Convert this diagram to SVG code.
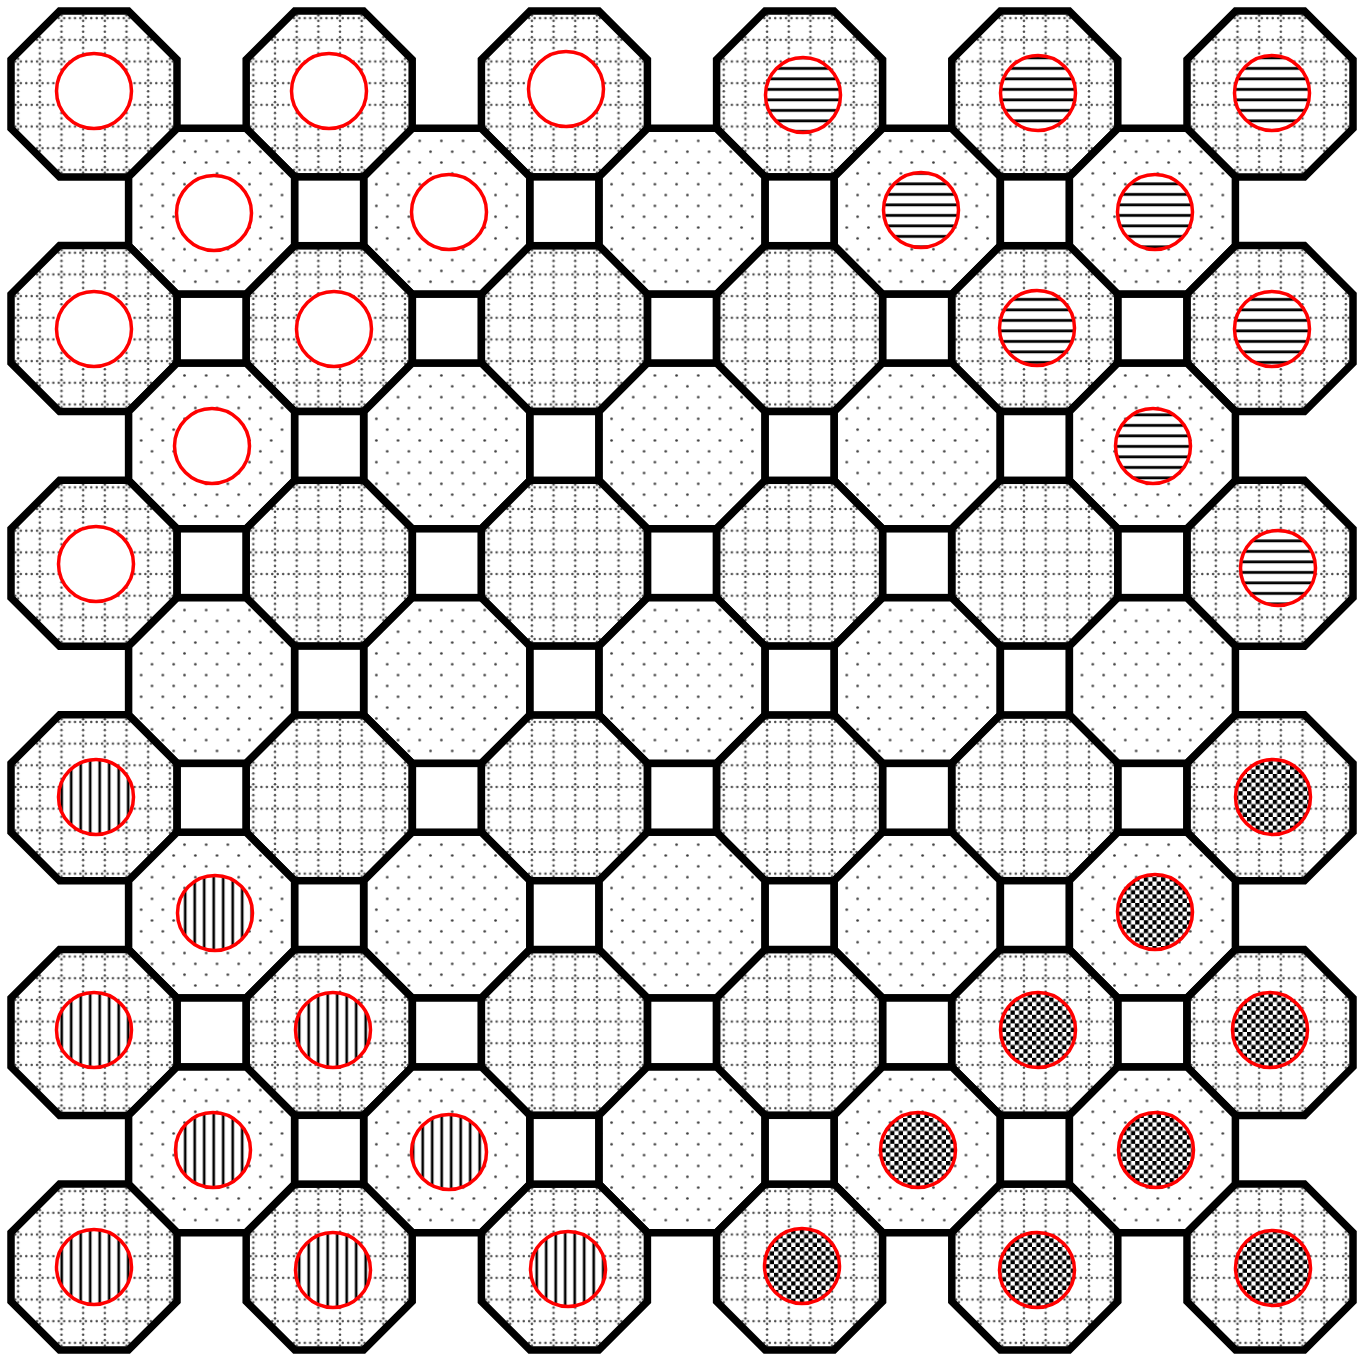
<svg xmlns="http://www.w3.org/2000/svg" width="1367" height="1354" viewBox="0 0 1367 1354">
<style>
.oct{stroke:#000;stroke-width:7.5;stroke-linejoin:miter}
.g{fill:url(#grid)}
.p{fill:url(#dots)}
.sq{fill:#fff;stroke:#000;stroke-width:7.5}
.pc{stroke:#f00;stroke-width:3.5}
.w{fill:#fff}
.h{fill:url(#hl)}
.v{fill:url(#vl)}
.k{fill:url(#chk)}
</style>
<defs>
<pattern id="grid" patternUnits="userSpaceOnUse" width="21.67" height="21.67">
<rect width="21.67" height="21.67" fill="#fff"/>
<g fill="#4a4a4a">
<circle cx="2.7" cy="10.83" r="1.25"/><circle cx="8.1" cy="10.83" r="1.25"/><circle cx="13.55" cy="10.83" r="1.25"/><circle cx="18.95" cy="10.83" r="1.25"/>
<circle cx="10.83" cy="2.7" r="1.25"/><circle cx="10.83" cy="8.1" r="1.25"/><circle cx="10.83" cy="13.55" r="1.25"/><circle cx="10.83" cy="18.95" r="1.25"/>
</g>
</pattern>
<pattern id="dots" patternUnits="userSpaceOnUse" width="21.67" height="21.67">
<rect width="21.67" height="21.67" fill="#fff"/>
<circle cx="5.42" cy="5.42" r="1.35" fill="#3c3c3c"/>
<circle cx="16.25" cy="16.25" r="1.35" fill="#3c3c3c"/>
</pattern>
<pattern id="hl" patternUnits="userSpaceOnUse" width="10" height="10.5">
<rect width="10" height="10.5" fill="#fff"/>
<rect y="4" width="10" height="2.8" fill="#000"/>
</pattern>
<pattern id="vl" patternUnits="userSpaceOnUse" width="9.5" height="10">
<rect width="9.5" height="10" fill="#fff"/>
<rect x="3.4" width="2.6" height="10" fill="#000"/>
</pattern>
<pattern id="chk" patternUnits="userSpaceOnUse" width="8.6" height="8.6">
<rect width="8.6" height="8.6" fill="#fff"/>
<rect width="4.3" height="4.3" fill="#000"/>
<rect x="4.3" y="4.3" width="4.3" height="4.3" fill="#000"/>
</pattern>
</defs>
<rect width="1367" height="1354" fill="#fff"/>

<g id="octagons">
<g id="oct-r0-c0" transform="translate(94,94)"><polygon class="oct g" points="-34.4,-83 34.4,-83 83,-34.4 83,34.4 34.4,83 -34.4,83 -83,34.4 -83,-34.4"/></g>
<g id="oct-r0-c2" transform="translate(329.2,94)"><polygon class="oct g" points="-34.4,-83 34.4,-83 83,-34.4 83,34.4 34.4,83 -34.4,83 -83,34.4 -83,-34.4"/></g>
<g id="oct-r0-c4" transform="translate(564.4,94)"><polygon class="oct g" points="-34.4,-83 34.4,-83 83,-34.4 83,34.4 34.4,83 -34.4,83 -83,34.4 -83,-34.4"/></g>
<g id="oct-r0-c6" transform="translate(799.6,94)"><polygon class="oct g" points="-34.4,-83 34.4,-83 83,-34.4 83,34.4 34.4,83 -34.4,83 -83,34.4 -83,-34.4"/></g>
<g id="oct-r0-c8" transform="translate(1034.8,94)"><polygon class="oct g" points="-34.4,-83 34.4,-83 83,-34.4 83,34.4 34.4,83 -34.4,83 -83,34.4 -83,-34.4"/></g>
<g id="oct-r0-c10" transform="translate(1270,94)"><polygon class="oct g" points="-34.4,-83 34.4,-83 83,-34.4 83,34.4 34.4,83 -34.4,83 -83,34.4 -83,-34.4"/></g>

<g id="oct-r1-c1" transform="translate(211.6,211.3)"><polygon class="oct p" points="-34.4,-83 34.4,-83 83,-34.4 83,34.4 34.4,83 -34.4,83 -83,34.4 -83,-34.4"/></g>
<g id="oct-r1-c3" transform="translate(446.8,211.3)"><polygon class="oct p" points="-34.4,-83 34.4,-83 83,-34.4 83,34.4 34.4,83 -34.4,83 -83,34.4 -83,-34.4"/></g>
<g id="oct-r1-c5" transform="translate(682,211.3)"><polygon class="oct p" points="-34.4,-83 34.4,-83 83,-34.4 83,34.4 34.4,83 -34.4,83 -83,34.4 -83,-34.4"/></g>
<g id="oct-r1-c7" transform="translate(917.2,211.3)"><polygon class="oct p" points="-34.4,-83 34.4,-83 83,-34.4 83,34.4 34.4,83 -34.4,83 -83,34.4 -83,-34.4"/></g>
<g id="oct-r1-c9" transform="translate(1152.4,211.3)"><polygon class="oct p" points="-34.4,-83 34.4,-83 83,-34.4 83,34.4 34.4,83 -34.4,83 -83,34.4 -83,-34.4"/></g>

<g id="oct-r2-c0" transform="translate(94,328.6)"><polygon class="oct g" points="-34.4,-83 34.4,-83 83,-34.4 83,34.4 34.4,83 -34.4,83 -83,34.4 -83,-34.4"/></g>
<g id="oct-r2-c2" transform="translate(329.2,328.6)"><polygon class="oct g" points="-34.4,-83 34.4,-83 83,-34.4 83,34.4 34.4,83 -34.4,83 -83,34.4 -83,-34.4"/></g>
<g id="oct-r2-c4" transform="translate(564.4,328.6)"><polygon class="oct g" points="-34.4,-83 34.4,-83 83,-34.4 83,34.4 34.4,83 -34.4,83 -83,34.4 -83,-34.4"/></g>
<g id="oct-r2-c6" transform="translate(799.6,328.6)"><polygon class="oct g" points="-34.4,-83 34.4,-83 83,-34.4 83,34.4 34.4,83 -34.4,83 -83,34.4 -83,-34.4"/></g>
<g id="oct-r2-c8" transform="translate(1034.8,328.6)"><polygon class="oct g" points="-34.4,-83 34.4,-83 83,-34.4 83,34.4 34.4,83 -34.4,83 -83,34.4 -83,-34.4"/></g>
<g id="oct-r2-c10" transform="translate(1270,328.6)"><polygon class="oct g" points="-34.4,-83 34.4,-83 83,-34.4 83,34.4 34.4,83 -34.4,83 -83,34.4 -83,-34.4"/></g>

<g id="oct-r3-c1" transform="translate(211.6,445.9)"><polygon class="oct p" points="-34.4,-83 34.4,-83 83,-34.4 83,34.4 34.4,83 -34.4,83 -83,34.4 -83,-34.4"/></g>
<g id="oct-r3-c3" transform="translate(446.8,445.9)"><polygon class="oct p" points="-34.4,-83 34.4,-83 83,-34.4 83,34.4 34.4,83 -34.4,83 -83,34.4 -83,-34.4"/></g>
<g id="oct-r3-c5" transform="translate(682,445.9)"><polygon class="oct p" points="-34.4,-83 34.4,-83 83,-34.4 83,34.4 34.4,83 -34.4,83 -83,34.4 -83,-34.4"/></g>
<g id="oct-r3-c7" transform="translate(917.2,445.9)"><polygon class="oct p" points="-34.4,-83 34.4,-83 83,-34.4 83,34.4 34.4,83 -34.4,83 -83,34.4 -83,-34.4"/></g>
<g id="oct-r3-c9" transform="translate(1152.4,445.9)"><polygon class="oct p" points="-34.4,-83 34.4,-83 83,-34.4 83,34.4 34.4,83 -34.4,83 -83,34.4 -83,-34.4"/></g>

<g id="oct-r4-c0" transform="translate(94,563.2)"><polygon class="oct g" points="-34.4,-83 34.4,-83 83,-34.4 83,34.4 34.4,83 -34.4,83 -83,34.4 -83,-34.4"/></g>
<g id="oct-r4-c2" transform="translate(329.2,563.2)"><polygon class="oct g" points="-34.4,-83 34.4,-83 83,-34.4 83,34.4 34.4,83 -34.4,83 -83,34.4 -83,-34.4"/></g>
<g id="oct-r4-c4" transform="translate(564.4,563.2)"><polygon class="oct g" points="-34.4,-83 34.4,-83 83,-34.4 83,34.4 34.4,83 -34.4,83 -83,34.4 -83,-34.4"/></g>
<g id="oct-r4-c6" transform="translate(799.6,563.2)"><polygon class="oct g" points="-34.4,-83 34.4,-83 83,-34.4 83,34.4 34.4,83 -34.4,83 -83,34.4 -83,-34.4"/></g>
<g id="oct-r4-c8" transform="translate(1034.8,563.2)"><polygon class="oct g" points="-34.4,-83 34.4,-83 83,-34.4 83,34.4 34.4,83 -34.4,83 -83,34.4 -83,-34.4"/></g>
<g id="oct-r4-c10" transform="translate(1270,563.2)"><polygon class="oct g" points="-34.4,-83 34.4,-83 83,-34.4 83,34.4 34.4,83 -34.4,83 -83,34.4 -83,-34.4"/></g>

<g id="oct-r5-c1" transform="translate(211.6,680.5)"><polygon class="oct p" points="-34.4,-83 34.4,-83 83,-34.4 83,34.4 34.4,83 -34.4,83 -83,34.4 -83,-34.4"/></g>
<g id="oct-r5-c3" transform="translate(446.8,680.5)"><polygon class="oct p" points="-34.4,-83 34.4,-83 83,-34.4 83,34.4 34.4,83 -34.4,83 -83,34.4 -83,-34.4"/></g>
<g id="oct-r5-c5" transform="translate(682,680.5)"><polygon class="oct p" points="-34.4,-83 34.4,-83 83,-34.4 83,34.4 34.4,83 -34.4,83 -83,34.4 -83,-34.4"/></g>
<g id="oct-r5-c7" transform="translate(917.2,680.5)"><polygon class="oct p" points="-34.4,-83 34.4,-83 83,-34.4 83,34.4 34.4,83 -34.4,83 -83,34.4 -83,-34.4"/></g>
<g id="oct-r5-c9" transform="translate(1152.4,680.5)"><polygon class="oct p" points="-34.4,-83 34.4,-83 83,-34.4 83,34.4 34.4,83 -34.4,83 -83,34.4 -83,-34.4"/></g>

<g id="oct-r6-c0" transform="translate(94,797.8)"><polygon class="oct g" points="-34.4,-83 34.4,-83 83,-34.4 83,34.4 34.4,83 -34.4,83 -83,34.4 -83,-34.4"/></g>
<g id="oct-r6-c2" transform="translate(329.2,797.8)"><polygon class="oct g" points="-34.4,-83 34.4,-83 83,-34.4 83,34.4 34.4,83 -34.4,83 -83,34.4 -83,-34.4"/></g>
<g id="oct-r6-c4" transform="translate(564.4,797.8)"><polygon class="oct g" points="-34.4,-83 34.4,-83 83,-34.4 83,34.4 34.4,83 -34.4,83 -83,34.4 -83,-34.4"/></g>
<g id="oct-r6-c6" transform="translate(799.6,797.8)"><polygon class="oct g" points="-34.4,-83 34.4,-83 83,-34.4 83,34.4 34.4,83 -34.4,83 -83,34.4 -83,-34.4"/></g>
<g id="oct-r6-c8" transform="translate(1034.8,797.8)"><polygon class="oct g" points="-34.4,-83 34.4,-83 83,-34.4 83,34.4 34.4,83 -34.4,83 -83,34.4 -83,-34.4"/></g>
<g id="oct-r6-c10" transform="translate(1270,797.8)"><polygon class="oct g" points="-34.4,-83 34.4,-83 83,-34.4 83,34.4 34.4,83 -34.4,83 -83,34.4 -83,-34.4"/></g>

<g id="oct-r7-c1" transform="translate(211.6,915.1)"><polygon class="oct p" points="-34.4,-83 34.4,-83 83,-34.4 83,34.4 34.4,83 -34.4,83 -83,34.4 -83,-34.4"/></g>
<g id="oct-r7-c3" transform="translate(446.8,915.1)"><polygon class="oct p" points="-34.4,-83 34.4,-83 83,-34.4 83,34.4 34.4,83 -34.4,83 -83,34.4 -83,-34.4"/></g>
<g id="oct-r7-c5" transform="translate(682,915.1)"><polygon class="oct p" points="-34.4,-83 34.4,-83 83,-34.4 83,34.4 34.4,83 -34.4,83 -83,34.4 -83,-34.4"/></g>
<g id="oct-r7-c7" transform="translate(917.2,915.1)"><polygon class="oct p" points="-34.4,-83 34.4,-83 83,-34.4 83,34.4 34.4,83 -34.4,83 -83,34.4 -83,-34.4"/></g>
<g id="oct-r7-c9" transform="translate(1152.4,915.1)"><polygon class="oct p" points="-34.4,-83 34.4,-83 83,-34.4 83,34.4 34.4,83 -34.4,83 -83,34.4 -83,-34.4"/></g>

<g id="oct-r8-c0" transform="translate(94,1032.4)"><polygon class="oct g" points="-34.4,-83 34.4,-83 83,-34.4 83,34.4 34.4,83 -34.4,83 -83,34.4 -83,-34.4"/></g>
<g id="oct-r8-c2" transform="translate(329.2,1032.4)"><polygon class="oct g" points="-34.4,-83 34.4,-83 83,-34.4 83,34.4 34.4,83 -34.4,83 -83,34.4 -83,-34.4"/></g>
<g id="oct-r8-c4" transform="translate(564.4,1032.4)"><polygon class="oct g" points="-34.4,-83 34.4,-83 83,-34.4 83,34.4 34.4,83 -34.4,83 -83,34.4 -83,-34.4"/></g>
<g id="oct-r8-c6" transform="translate(799.6,1032.4)"><polygon class="oct g" points="-34.4,-83 34.4,-83 83,-34.4 83,34.4 34.4,83 -34.4,83 -83,34.4 -83,-34.4"/></g>
<g id="oct-r8-c8" transform="translate(1034.8,1032.4)"><polygon class="oct g" points="-34.4,-83 34.4,-83 83,-34.4 83,34.4 34.4,83 -34.4,83 -83,34.4 -83,-34.4"/></g>
<g id="oct-r8-c10" transform="translate(1270,1032.4)"><polygon class="oct g" points="-34.4,-83 34.4,-83 83,-34.4 83,34.4 34.4,83 -34.4,83 -83,34.4 -83,-34.4"/></g>

<g id="oct-r9-c1" transform="translate(211.6,1149.7)"><polygon class="oct p" points="-34.4,-83 34.4,-83 83,-34.4 83,34.4 34.4,83 -34.4,83 -83,34.4 -83,-34.4"/></g>
<g id="oct-r9-c3" transform="translate(446.8,1149.7)"><polygon class="oct p" points="-34.4,-83 34.4,-83 83,-34.4 83,34.4 34.4,83 -34.4,83 -83,34.4 -83,-34.4"/></g>
<g id="oct-r9-c5" transform="translate(682,1149.7)"><polygon class="oct p" points="-34.4,-83 34.4,-83 83,-34.4 83,34.4 34.4,83 -34.4,83 -83,34.4 -83,-34.4"/></g>
<g id="oct-r9-c7" transform="translate(917.2,1149.7)"><polygon class="oct p" points="-34.4,-83 34.4,-83 83,-34.4 83,34.4 34.4,83 -34.4,83 -83,34.4 -83,-34.4"/></g>
<g id="oct-r9-c9" transform="translate(1152.4,1149.7)"><polygon class="oct p" points="-34.4,-83 34.4,-83 83,-34.4 83,34.4 34.4,83 -34.4,83 -83,34.4 -83,-34.4"/></g>

<g id="oct-r10-c0" transform="translate(94,1267)"><polygon class="oct g" points="-34.4,-83 34.4,-83 83,-34.4 83,34.4 34.4,83 -34.4,83 -83,34.4 -83,-34.4"/></g>
<g id="oct-r10-c2" transform="translate(329.2,1267)"><polygon class="oct g" points="-34.4,-83 34.4,-83 83,-34.4 83,34.4 34.4,83 -34.4,83 -83,34.4 -83,-34.4"/></g>
<g id="oct-r10-c4" transform="translate(564.4,1267)"><polygon class="oct g" points="-34.4,-83 34.4,-83 83,-34.4 83,34.4 34.4,83 -34.4,83 -83,34.4 -83,-34.4"/></g>
<g id="oct-r10-c6" transform="translate(799.6,1267)"><polygon class="oct g" points="-34.4,-83 34.4,-83 83,-34.4 83,34.4 34.4,83 -34.4,83 -83,34.4 -83,-34.4"/></g>
<g id="oct-r10-c8" transform="translate(1034.8,1267)"><polygon class="oct g" points="-34.4,-83 34.4,-83 83,-34.4 83,34.4 34.4,83 -34.4,83 -83,34.4 -83,-34.4"/></g>
<g id="oct-r10-c10" transform="translate(1270,1267)"><polygon class="oct g" points="-34.4,-83 34.4,-83 83,-34.4 83,34.4 34.4,83 -34.4,83 -83,34.4 -83,-34.4"/></g>
</g>

<g id="squares">
<g id="sq-r1-c2" transform="translate(329.2,211.3)"><rect class="sq" x="-34.4" y="-34.4" width="68.8" height="68.8"/></g>
<g id="sq-r1-c4" transform="translate(564.4,211.3)"><rect class="sq" x="-34.4" y="-34.4" width="68.8" height="68.8"/></g>
<g id="sq-r1-c6" transform="translate(799.6,211.3)"><rect class="sq" x="-34.4" y="-34.4" width="68.8" height="68.8"/></g>
<g id="sq-r1-c8" transform="translate(1034.8,211.3)"><rect class="sq" x="-34.4" y="-34.4" width="68.8" height="68.8"/></g>

<g id="sq-r2-c1" transform="translate(211.6,328.6)"><rect class="sq" x="-34.4" y="-34.4" width="68.8" height="68.8"/></g>
<g id="sq-r2-c3" transform="translate(446.8,328.6)"><rect class="sq" x="-34.4" y="-34.4" width="68.8" height="68.8"/></g>
<g id="sq-r2-c5" transform="translate(682,328.6)"><rect class="sq" x="-34.4" y="-34.4" width="68.8" height="68.8"/></g>
<g id="sq-r2-c7" transform="translate(917.2,328.6)"><rect class="sq" x="-34.4" y="-34.4" width="68.8" height="68.8"/></g>
<g id="sq-r2-c9" transform="translate(1152.4,328.6)"><rect class="sq" x="-34.4" y="-34.4" width="68.8" height="68.8"/></g>

<g id="sq-r3-c2" transform="translate(329.2,445.9)"><rect class="sq" x="-34.4" y="-34.4" width="68.8" height="68.8"/></g>
<g id="sq-r3-c4" transform="translate(564.4,445.9)"><rect class="sq" x="-34.4" y="-34.4" width="68.8" height="68.8"/></g>
<g id="sq-r3-c6" transform="translate(799.6,445.9)"><rect class="sq" x="-34.4" y="-34.4" width="68.8" height="68.8"/></g>
<g id="sq-r3-c8" transform="translate(1034.8,445.9)"><rect class="sq" x="-34.4" y="-34.4" width="68.8" height="68.8"/></g>

<g id="sq-r4-c1" transform="translate(211.6,563.2)"><rect class="sq" x="-34.4" y="-34.4" width="68.8" height="68.8"/></g>
<g id="sq-r4-c3" transform="translate(446.8,563.2)"><rect class="sq" x="-34.4" y="-34.4" width="68.8" height="68.8"/></g>
<g id="sq-r4-c5" transform="translate(682,563.2)"><rect class="sq" x="-34.4" y="-34.4" width="68.8" height="68.8"/></g>
<g id="sq-r4-c7" transform="translate(917.2,563.2)"><rect class="sq" x="-34.4" y="-34.4" width="68.8" height="68.8"/></g>
<g id="sq-r4-c9" transform="translate(1152.4,563.2)"><rect class="sq" x="-34.4" y="-34.4" width="68.8" height="68.8"/></g>

<g id="sq-r5-c2" transform="translate(329.2,680.5)"><rect class="sq" x="-34.4" y="-34.4" width="68.8" height="68.8"/></g>
<g id="sq-r5-c4" transform="translate(564.4,680.5)"><rect class="sq" x="-34.4" y="-34.4" width="68.8" height="68.8"/></g>
<g id="sq-r5-c6" transform="translate(799.6,680.5)"><rect class="sq" x="-34.4" y="-34.4" width="68.8" height="68.8"/></g>
<g id="sq-r5-c8" transform="translate(1034.8,680.5)"><rect class="sq" x="-34.4" y="-34.4" width="68.8" height="68.8"/></g>

<g id="sq-r6-c1" transform="translate(211.6,797.8)"><rect class="sq" x="-34.4" y="-34.4" width="68.8" height="68.8"/></g>
<g id="sq-r6-c3" transform="translate(446.8,797.8)"><rect class="sq" x="-34.4" y="-34.4" width="68.8" height="68.8"/></g>
<g id="sq-r6-c5" transform="translate(682,797.8)"><rect class="sq" x="-34.4" y="-34.4" width="68.8" height="68.8"/></g>
<g id="sq-r6-c7" transform="translate(917.2,797.8)"><rect class="sq" x="-34.4" y="-34.4" width="68.8" height="68.8"/></g>
<g id="sq-r6-c9" transform="translate(1152.4,797.8)"><rect class="sq" x="-34.4" y="-34.4" width="68.8" height="68.8"/></g>

<g id="sq-r7-c2" transform="translate(329.2,915.1)"><rect class="sq" x="-34.4" y="-34.4" width="68.8" height="68.8"/></g>
<g id="sq-r7-c4" transform="translate(564.4,915.1)"><rect class="sq" x="-34.4" y="-34.4" width="68.8" height="68.8"/></g>
<g id="sq-r7-c6" transform="translate(799.6,915.1)"><rect class="sq" x="-34.4" y="-34.4" width="68.8" height="68.8"/></g>
<g id="sq-r7-c8" transform="translate(1034.8,915.1)"><rect class="sq" x="-34.4" y="-34.4" width="68.8" height="68.8"/></g>

<g id="sq-r8-c1" transform="translate(211.6,1032.4)"><rect class="sq" x="-34.4" y="-34.4" width="68.8" height="68.8"/></g>
<g id="sq-r8-c3" transform="translate(446.8,1032.4)"><rect class="sq" x="-34.4" y="-34.4" width="68.8" height="68.8"/></g>
<g id="sq-r8-c5" transform="translate(682,1032.4)"><rect class="sq" x="-34.4" y="-34.4" width="68.8" height="68.8"/></g>
<g id="sq-r8-c7" transform="translate(917.2,1032.4)"><rect class="sq" x="-34.4" y="-34.4" width="68.8" height="68.8"/></g>
<g id="sq-r8-c9" transform="translate(1152.4,1032.4)"><rect class="sq" x="-34.4" y="-34.4" width="68.8" height="68.8"/></g>

<g id="sq-r9-c2" transform="translate(329.2,1149.7)"><rect class="sq" x="-34.4" y="-34.4" width="68.8" height="68.8"/></g>
<g id="sq-r9-c4" transform="translate(564.4,1149.7)"><rect class="sq" x="-34.4" y="-34.4" width="68.8" height="68.8"/></g>
<g id="sq-r9-c6" transform="translate(799.6,1149.7)"><rect class="sq" x="-34.4" y="-34.4" width="68.8" height="68.8"/></g>
<g id="sq-r9-c8" transform="translate(1034.8,1149.7)"><rect class="sq" x="-34.4" y="-34.4" width="68.8" height="68.8"/></g>
</g>

<g id="connectors"></g>

<g id="pieces">
<g id="piece-white-1"><circle class="pc w" cx="94" cy="91" r="37.5"/></g>
<g id="piece-white-2"><circle class="pc w" cx="329" cy="91" r="37.5"/></g>
<g id="piece-white-3"><circle class="pc w" cx="566" cy="89" r="37.5"/></g>
<g id="piece-white-4"><circle class="pc w" cx="214" cy="213" r="37.5"/></g>
<g id="piece-white-5"><circle class="pc w" cx="449" cy="212" r="37.5"/></g>
<g id="piece-white-6"><circle class="pc w" cx="94" cy="329" r="37.5"/></g>
<g id="piece-white-7"><circle class="pc w" cx="334" cy="329" r="37.5"/></g>
<g id="piece-white-8"><circle class="pc w" cx="212" cy="446" r="37.5"/></g>
<g id="piece-white-9"><circle class="pc w" cx="96" cy="564" r="37.5"/></g>

<g id="piece-hlines-1"><circle class="pc h" cx="803" cy="95" r="37.5"/></g>
<g id="piece-hlines-2"><circle class="pc h" cx="1038" cy="93" r="37.5"/></g>
<g id="piece-hlines-3"><circle class="pc h" cx="1272" cy="93" r="37.5"/></g>
<g id="piece-hlines-4"><circle class="pc h" cx="921" cy="210" r="37.5"/></g>
<g id="piece-hlines-5"><circle class="pc h" cx="1155" cy="212" r="37.5"/></g>
<g id="piece-hlines-6"><circle class="pc h" cx="1037" cy="328" r="37.5"/></g>
<g id="piece-hlines-7"><circle class="pc h" cx="1272" cy="329" r="37.5"/></g>
<g id="piece-hlines-8"><circle class="pc h" cx="1153" cy="446" r="37.5"/></g>
<g id="piece-hlines-9"><circle class="pc h" cx="1278" cy="568" r="37.5"/></g>

<g id="piece-vlines-1"><circle class="pc v" cx="96" cy="797" r="37.5"/></g>
<g id="piece-vlines-2"><circle class="pc v" cx="215" cy="913" r="37.5"/></g>
<g id="piece-vlines-3"><circle class="pc v" cx="94" cy="1030" r="37.5"/></g>
<g id="piece-vlines-4"><circle class="pc v" cx="333" cy="1030" r="37.5"/></g>
<g id="piece-vlines-5"><circle class="pc v" cx="213" cy="1150" r="37.5"/></g>
<g id="piece-vlines-6"><circle class="pc v" cx="449" cy="1152" r="37.5"/></g>
<g id="piece-vlines-7"><circle class="pc v" cx="94" cy="1267" r="37.5"/></g>
<g id="piece-vlines-8"><circle class="pc v" cx="333" cy="1270" r="37.5"/></g>
<g id="piece-vlines-9"><circle class="pc v" cx="568" cy="1269" r="37.5"/></g>

<g id="piece-checker-1"><circle class="pc k" cx="1273" cy="797" r="37.5"/></g>
<g id="piece-checker-2"><circle class="pc k" cx="1155" cy="912" r="37.5"/></g>
<g id="piece-checker-3"><circle class="pc k" cx="1038" cy="1030" r="37.5"/></g>
<g id="piece-checker-4"><circle class="pc k" cx="1270" cy="1030" r="37.5"/></g>
<g id="piece-checker-5"><circle class="pc k" cx="918" cy="1150" r="37.5"/></g>
<g id="piece-checker-6"><circle class="pc k" cx="1156" cy="1150" r="37.5"/></g>
<g id="piece-checker-7"><circle class="pc k" cx="802" cy="1266" r="37.5"/></g>
<g id="piece-checker-8"><circle class="pc k" cx="1037" cy="1270" r="37.5"/></g>
<g id="piece-checker-9"><circle class="pc k" cx="1273" cy="1268" r="37.5"/></g>
</g>
</svg>
